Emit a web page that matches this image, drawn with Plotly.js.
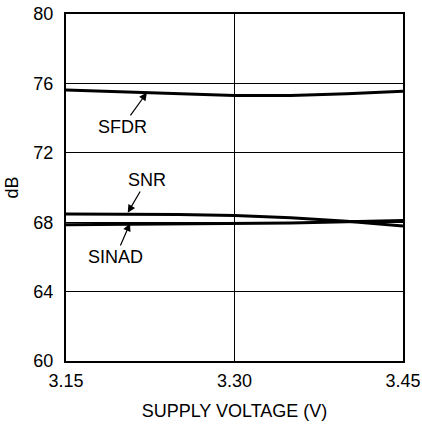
<!DOCTYPE html>
<html>
<head>
<meta charset="utf-8">
<script src="https://cdn.plot.ly/plotly-3.0.1.min.js"></script>
<style>html,body{margin:0;padding:0;background:#fff;}#chart{width:422px;height:424px;}</style>
</head>
<body>
<div id="chart"></div>
<script>
const voltage = [3.15, 3.20, 3.25, 3.30, 3.35, 3.40, 3.45];
const sfdr  = [75.62, 75.50, 75.38, 75.30, 75.30, 75.40, 75.55];
const snr   = [68.47, 68.46, 68.44, 68.38, 68.25, 68.05, 67.78];
const sinad = [67.85, 67.87, 67.88, 67.90, 67.95, 68.02, 68.10];
const xTicks = [3.15, 3.30, 3.45];
const xTickText = ['3.15', '3.30', '3.45'];
const yTicks = [60, 64, 68, 72, 76, 80];

const font = {family: 'Liberation Sans, Arial, sans-serif', size: 18, color: '#000'};
const line = {color: '#000', width: 3};

const traces = [
  {x: voltage, y: sfdr, mode: 'lines', line: line, name: 'SFDR'},
  {x: voltage, y: snr, mode: 'lines', line: line, name: 'SNR'},
  {x: voltage, y: sinad, mode: 'lines', line: line, name: 'SINAD'}
];

function label(text, tx, ty, hx, hy) {
  return {text: text, x: hx, y: hy, ax: tx, ay: ty, axref: 'x', ayref: 'y', xref: 'x', yref: 'y',
    showarrow: true, arrowhead: 2, arrowsize: 1.3, arrowwidth: 1.2, arrowcolor: '#000',
    font: font, standoff: 0, startstandoff: 0};
}

const layout = {
  width: 422, height: 424,
  margin: {l: 66, r: 19, t: 14, b: 63},
  paper_bgcolor: '#fff', plot_bgcolor: '#fff',
  showlegend: false,
  font: font,
  xaxis: {
    range: [3.15, 3.45], tickvals: xTicks, ticktext: xTickText,
    showgrid: true, gridcolor: '#000', gridwidth: 1,
    showline: true, linecolor: '#000', linewidth: 2, mirror: true,
    ticks: '', ticklabelstandoff: 2, zeroline: false,
    title: {text: 'SUPPLY VOLTAGE (V)', font: font, standoff: 15}
  },
  yaxis: {
    range: [60, 80], tickvals: yTicks,
    showgrid: true, gridcolor: '#000', gridwidth: 1,
    showline: true, linecolor: '#000', linewidth: 2, mirror: true,
    ticks: '', ticklabelstandoff: 7, zeroline: false,
    title: {text: 'dB', font: font, standoff: 10}
  },
  annotations: [
    label('SFDR', 3.20, 73.49, 3.222, 75.47),
    label('SNR', 3.222, 70.43, 3.205, 68.55),
    label('SINAD', 3.194, 66.0, 3.207, 67.93)
  ]
};

Plotly.newPlot('chart', traces, layout, {staticPlot: true, displayModeBar: false});
</script>
</body>
</html>
